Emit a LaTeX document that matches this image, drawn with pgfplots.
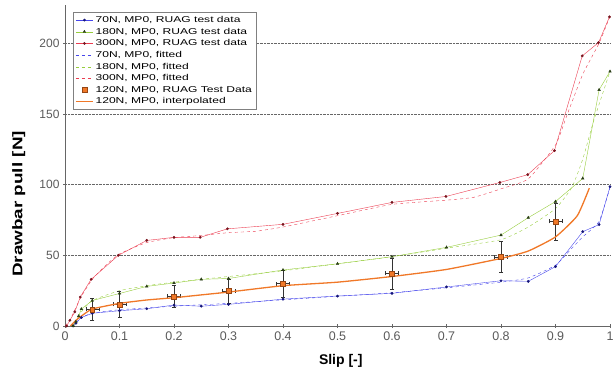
\documentclass[border=0pt]{standalone}
\usepackage{fontspec}
\setmainfont{Liberation Sans}
\newfontfamily\widefont{Liberation Sans}[FakeStretch=1.35]
\newfontfamily\legfont{Liberation Sans}[FakeStretch=1.42]
\usepackage{pgfplots}
\pgfplotsset{compat=1.18}
\definecolor{cblue}{RGB}{70,70,235}
\definecolor{cbluem}{RGB}{20,20,120}
\definecolor{cgreen}{RGB}{150,205,60}
\definecolor{cgreenm}{RGB}{40,60,20}
\definecolor{cred}{RGB}{235,60,80}
\definecolor{credm}{RGB}{120,20,30}
\definecolor{corange}{RGB}{240,120,40}
\definecolor{cbrown}{RGB}{150,70,20}
\definecolor{tickgray}{RGB}{90,90,90}
\begin{document}
\begin{tikzpicture}
\path[use as bounding box] (-65pt,-43pt) rectangle (550pt,326pt);
\begin{axis}[
  at={(0,0)}, anchor=south west,
  scale only axis, width=545pt, height=321pt,
  xmin=0, xmax=1, ymin=0, ymax=227,
  axis lines=left, axis line style={-, draw=gray!80!black},
  xtick={0,0.1,0.2,0.3,0.4,0.5,0.6,0.7,0.8,0.9,1},
  xticklabels={0,0.1,0.2,0.3,0.4,0.5,0.6,0.7,0.8,0.9,1},
  ytick={0,50,100,150,200},
  yticklabels={0,50,100,150,200},
  tick style={gray!80!black},
  major tick length=4pt,
  tick align=center,
  ymajorgrids, grid style={densely dotted, gray!80!black},
  x tick label style={font=\fontsize{12.5}{14}\selectfont, text=tickgray},
  y tick label style={font=\fontsize{12}{14}\selectfont, text=tickgray},
  xlabel={\textbf{Slip [-]}},
  ylabel={\widefont\bfseries Drawbar pull [N]},
  xlabel style={font=\fontsize{14}{16}\selectfont, at={(axis description cs:0.506,-0.109)}, anchor=center},
  ylabel style={font=\fontsize{14}{16}\selectfont, at={(axis description cs:-0.085,0.38)}, anchor=center},
  legend style={at={(rel axis cs:0.0147,0.978)}, anchor=north west,
    font=\legfont\fontsize{8.5}{9}\selectfont, draw=gray, row sep=0pt,
    inner sep=2pt},
  legend cell align=left,
]
% 70N RUAG test data
\addplot[cblue, thin, mark=*, mark size=1.2pt, mark options={fill=cbluem, draw=cbluem}] coordinates {
(0.015,0)(0.02,2)(0.03,6)(0.05,9)(0.1,10.8)(0.15,12.2)(0.2,14.8)(0.25,14)(0.3,15.3)(0.4,19)(0.5,21.2)(0.6,23.1)(0.7,27.6)(0.8,32)(0.85,31.6)(0.9,42)(0.95,66.7)(0.98,71.7)(1.0,98.5)};
\addlegendentry{70N, MP0, RUAG test data}
% 180N RUAG test data
\addplot[cgreen, thin, mark=triangle*, mark size=1.5pt, mark options={fill=cgreenm, draw=cgreenm}] coordinates {
(0.015,0)(0.02,3)(0.025,7)(0.03,12)(0.05,18)(0.1,23)(0.15,28)(0.2,30.4)(0.25,33)(0.3,33.6)(0.4,39.6)(0.5,44)(0.6,49)(0.7,55.6)(0.8,64.3)(0.85,76.6)(0.9,88)(0.95,104.4)(0.98,167)(1.0,180)};
\addlegendentry{180N, MP0, RUAG test data}
% 300N RUAG test data
\addplot[cred, thin, mark=*, mark size=1.2pt, mark options={fill=credm, draw=credm}] coordinates {
(0.003,0)(0.009,4)(0.018,10)(0.028,20.5)(0.048,33)(0.098,50)(0.15,60.5)(0.2,62.7)(0.248,62.7)(0.298,68.7)(0.4,71.9)(0.5,79.6)(0.6,87.4)(0.699,91.6)(0.798,101.5)(0.849,107)(0.898,124)(0.949,191)(0.979,200.4)(0.999,218.6)};
\addlegendentry{300N, MP0, RUAG test data}
% fitted
\addplot[cblue, thin, dashed, smooth, tension=0.3] coordinates {
(0.01,0)(0.02,3)(0.03,6)(0.05,9)(0.1,11.5)(0.2,14)(0.3,16)(0.4,18.5)(0.5,21)(0.6,23.5)(0.7,27)(0.8,31)(0.85,34)(0.9,43)(0.93,55)(0.95,63)(0.98,74)(1.0,98)};
\addlegendentry{70N, MP0, fitted}
\addplot[cgreen, thin, dashed, smooth, tension=0.3] coordinates {
(0.01,0)(0.02,4)(0.03,10)(0.05,18)(0.1,25)(0.15,28.5)(0.2,31)(0.25,33)(0.3,35)(0.4,39)(0.5,44)(0.6,49)(0.7,55)(0.8,61)(0.85,70)(0.9,83)(0.93,98)(0.95,118)(0.97,145)(1.0,180)};
\addlegendentry{180N, MP0, fitted}
\addplot[cred, thin, dashed, smooth, tension=0.3] coordinates {
(0,0)(0.01,5)(0.02,13)(0.03,21)(0.05,33)(0.075,43)(0.1,51)(0.15,59)(0.2,62.5)(0.25,64)(0.3,66)(0.35,67)(0.4,70)(0.5,78)(0.6,86)(0.7,89)(0.75,91)(0.8,97)(0.85,104)(0.9,128)(0.92,148)(0.95,178)(0.98,200)(1.0,219)};
\addlegendentry{300N, MP0, fitted}
% 120N RUAG test data with error bars
\addplot[only marks, mark=square*, mark size=2.4pt, mark options={fill=corange, draw=cbrown},
  error bars/.cd, x dir=both, x explicit, y dir=both, y explicit,
  error bar style={gray!40!black, thin}, error mark options={rotate=90, mark size=2pt, gray!40!black}] coordinates {
(0.05,11.8) +- (0.012,8)
(0.1,15.3) +- (0.012,9)
(0.2,21) +- (0.012,8)
(0.3,24.7) +- (0.012,8.7)
(0.4,30) +- (0.012,9.7)
(0.6,37.2) +- (0.012,11)
(0.8,49) +- (0.012,11)
(0.9,74) +- (0.012,13)};
\addlegendentry{120N, MP0, RUAG Test Data}
\addplot[corange, line width=1.3pt, smooth, tension=0.3] coordinates {
(0.01,0)(0.02,4)(0.03,7)(0.05,12)(0.1,16)(0.15,18.4)(0.2,20)(0.25,22)(0.3,24)(0.4,28.5)(0.5,31)(0.6,35)(0.7,40)(0.8,47.8)(0.85,53)(0.9,63)(0.94,78)(0.962,97.5)};
\addlegendentry{120N, MP0, interpolated}
\end{axis}
\end{tikzpicture}
\end{document}
